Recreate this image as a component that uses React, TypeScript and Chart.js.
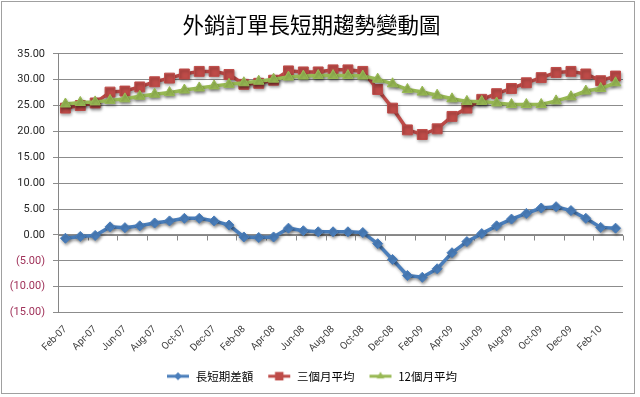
import React, { useEffect, useRef } from "react";
import { Chart, registerables } from "chart.js";

Chart.register(...registerables);

const months = [
  "Feb-07", "Mar-07", "Apr-07", "May-07", "Jun-07", "Jul-07", "Aug-07", "Sep-07", "Oct-07", "Nov-07", "Dec-07",
  "Jan-08", "Feb-08", "Mar-08", "Apr-08", "May-08", "Jun-08", "Jul-08", "Aug-08", "Sep-08", "Oct-08", "Nov-08", "Dec-08",
  "Jan-09", "Feb-09", "Mar-09", "Apr-09", "May-09", "Jun-09", "Jul-09", "Aug-09", "Sep-09", "Oct-09", "Nov-09", "Dec-09",
  "Jan-10", "Feb-10", "Mar-10",
];

const spreadValues = [
  -0.65, -0.3, -0.1, 1.55, 1.4, 1.75, 2.3, 2.7, 3.2, 3.2, 2.7,
  1.9, -0.4, -0.5, -0.4, 1.3, 0.8, 0.6, 0.6, 0.6, 0.45, -1.7, -4.75,
  -7.85, -8.2, -6.55, -3.45, -1.3, 0.25, 1.75, 3.05, 4.15, 5.2, 5.45, 4.7,
  3.2, 1.45, 1.3,
];

const avg3Values = [
  24.5, 25.0, 25.5, 27.6, 27.8, 28.6, 29.6, 30.3, 31.1, 31.6, 31.6,
  31.0, 29.1, 29.3, 29.9, 31.7, 31.5, 31.5, 31.9, 31.9, 31.6, 28.1, 24.5,
  20.3, 19.4, 20.5, 22.9, 24.5, 26.2, 27.3, 28.3, 29.4, 30.4, 31.4, 31.6,
  31.1, 29.8, 30.7,
];

const avg12Values = [
  25.3, 25.6, 25.7, 26.0, 26.3, 26.8, 27.2, 27.5, 28.0, 28.4, 28.8,
  29.1, 29.4, 29.7, 30.1, 30.5, 30.7, 30.8, 30.8, 30.8, 30.7, 30.1, 29.2,
  28.1, 27.6, 27.0, 26.3, 25.8, 25.8, 25.5, 25.2, 25.2, 25.2, 25.9, 26.7,
  27.8, 28.3, 29.4,
];

const seriesNames = ["長短期差額", "三個月平均", "12個月平均"];
const titleText = "外銷訂單長短期趨勢變動圖";
const yMin = -15;
const yMax = 35;
const yStep = 5;

const BLUE = "#4A7EBB";
const RED = "#BE4B48";
const GREEN = "#98B954";
const CJK = "'Noto Sans CJK TC', 'Noto Sans', sans-serif";
const LATIN = "Roboto, 'Noto Sans', sans-serif";

function drawMarker(ctx: CanvasRenderingContext2D, style: string, x: number, y: number, r: number) {
  ctx.beginPath();
  if (style === "rectRot") {
    ctx.moveTo(x - r, y);
    ctx.lineTo(x, y - r);
    ctx.lineTo(x + r, y);
    ctx.lineTo(x, y + r);
  } else if (style === "rect") {
    const s = r * Math.SQRT1_2;
    ctx.rect(x - s, y - s, 2 * s, 2 * s);
  } else {
    ctx.moveTo(x, y - r);
    ctx.lineTo(x + r * Math.sin((2 * Math.PI) / 3), y - r * Math.cos((2 * Math.PI) / 3));
    ctx.lineTo(x + r * Math.sin((4 * Math.PI) / 3), y - r * Math.cos((4 * Math.PI) / 3));
  }
  ctx.closePath();
  ctx.fill();
}

function legendIcon(color: string, style: string, r: number) {
  const c = document.createElement("canvas");
  c.width = 24;
  c.height = 10;
  const ctx = c.getContext("2d")!;
  ctx.strokeStyle = color;
  ctx.lineWidth = 3;
  ctx.beginPath();
  ctx.moveTo(1, 5);
  ctx.lineTo(23, 5);
  ctx.stroke();
  ctx.fillStyle = color;
  drawMarker(ctx, style, 12, 5, r);
  return c;
}

const borderPlugin = {
  id: "outerBorder",
  beforeDraw(chart: any) {
    const ctx = chart.ctx;
    ctx.save();
    ctx.fillStyle = "#ffffff";
    ctx.fillRect(0, 0, chart.width, chart.height);
    ctx.strokeStyle = "#a0a0a0";
    ctx.lineWidth = 1;
    ctx.strokeRect(1.5, 1.5, 633, 392);
    ctx.restore();
  },
};

const zeroAxisPlugin = {
  id: "zeroAxis",
  beforeDatasetsDraw(chart: any) {
    const { ctx, chartArea, scales } = chart;
    const x = scales.x;
    const y = scales.y;
    const py = Math.round(y.getPixelForValue(0)) + 0.5;
    ctx.save();
    ctx.strokeStyle = "#868686";
    ctx.lineWidth = 1;
    ctx.beginPath();
    ctx.moveTo(chartArea.left, py);
    ctx.lineTo(chartArea.right, py);
    const half = (x.getPixelForValue(1) - x.getPixelForValue(0)) / 2;
    for (let k = 0; k <= months.length; k += 2) {
      const px = Math.round(x.getPixelForValue(k) - half) + 0.5;
      ctx.moveTo(px, py);
      ctx.lineTo(px, py + 5);
    }
    ctx.stroke();
    ctx.restore();
  },
};

const shadowPlugin = {
  id: "lineShadow",
  beforeDatasetDraw(chart: any) {
    const ctx = chart.ctx;
    ctx.save();
    ctx.shadowColor = "rgba(0,0,0,0.35)";
    ctx.shadowBlur = 3;
    ctx.shadowOffsetX = 1;
    ctx.shadowOffsetY = 2;
  },
  afterDatasetDraw(chart: any) {
    chart.ctx.restore();
  },
};

export default function App() {
  const ref = useRef<HTMLCanvasElement | null>(null);

  useEffect(() => {
    if (!ref.current) return;
    const icons = [
      legendIcon(BLUE, "rectRot", 4),
      legendIcon(RED, "rect", 6),
      legendIcon(GREEN, "triangle", 4.5),
    ];
    const colors = [BLUE, RED, GREEN];
    const chart = new Chart(ref.current, {
      type: "line",
      data: {
        labels: months,
        datasets: [
          {
            label: seriesNames[0],
            data: spreadValues,
            borderColor: BLUE,
            backgroundColor: BLUE,
            borderWidth: 3.5,
            pointStyle: "rectRot",
            pointRadius: 5,
            pointBorderWidth: 1,
            tension: 0,
            order: 2,
          },
          {
            label: seriesNames[1],
            data: avg3Values,
            borderColor: RED,
            backgroundColor: RED,
            borderWidth: 3.5,
            pointStyle: "rect",
            pointRadius: 7,
            pointBorderWidth: 1,
            tension: 0,
            order: 1,
          },
          {
            label: seriesNames[2],
            data: avg12Values,
            borderColor: GREEN,
            backgroundColor: GREEN,
            borderWidth: 3.5,
            pointStyle: "triangle",
            pointRadius: 6,
            pointBorderWidth: 1,
            tension: 0,
            order: 0,
          },
        ],
      },
      options: {
        animation: false,
        responsive: false,
        maintainAspectRatio: false,
        layout: { padding: { left: 0, right: 17, top: 0, bottom: 5 } },
        plugins: {
          title: {
            display: true,
            text: titleText,
            color: "#000000",
            font: { family: CJK, size: 21.5, weight: "normal" as any },
            padding: { top: 12, bottom: 16 },
          },
          legend: {
            display: true,
            position: "bottom",
            labels: {
              usePointStyle: true,
              pointStyleWidth: 24,
              padding: 14,
              color: "#000000",
              font: { family: CJK, size: 11.5 },
              generateLabels: () =>
                seriesNames.map((name, i) => ({
                  text: name,
                  pointStyle: icons[i] as any,
                  fillStyle: colors[i],
                  strokeStyle: colors[i],
                  lineWidth: 0,
                  hidden: false,
                  datasetIndex: i,
                })),
            },
          },
          tooltip: { enabled: false },
        },
        scales: {
          x: {
            type: "category",
            offset: true,
            grid: { display: false },
            border: { display: false },
            afterFit: (scale: any) => {
              scale.height = 44;
            },
            ticks: {
              autoSkip: false,
              maxRotation: 45,
              minRotation: 45,
              padding: 3,
              color: "#404040",
              font: { family: LATIN, size: 10 },
              callback: (_v: any, i: number) => (i % 2 === 0 ? months[i] : ""),
            },
          },
          y: {
            min: yMin,
            max: yMax,
            afterFit: (scale: any) => {
              scale.width = 58;
            },
            border: { display: true, color: "#868686" },
            grid: {
              color: "#8c8c8c",
              lineWidth: 1,
              drawTicks: true,
              tickLength: 5,
            },
            ticks: {
              stepSize: yStep,
              padding: 8,
              font: { family: LATIN, size: 11 },
              color: (c: any) => (c.tick && c.tick.value < 0 ? "#A0325A" : "#262626"),
              callback: (v: any) => {
                const n = Number(v);
                return n < 0 ? `(${Math.abs(n).toFixed(2)})` : n.toFixed(2);
              },
            },
          },
        },
      },
      plugins: [borderPlugin, zeroAxisPlugin, shadowPlugin],
    });
    return () => chart.destroy();
  }, []);

  return (
    <div style={{ position: "fixed", left: 0, top: 0, width: 640, height: 397, background: "#fff" }}>
      <canvas ref={ref} width={640} height={397} style={{ display: "block", width: 640, height: 397 }} />
    </div>
  );
}
